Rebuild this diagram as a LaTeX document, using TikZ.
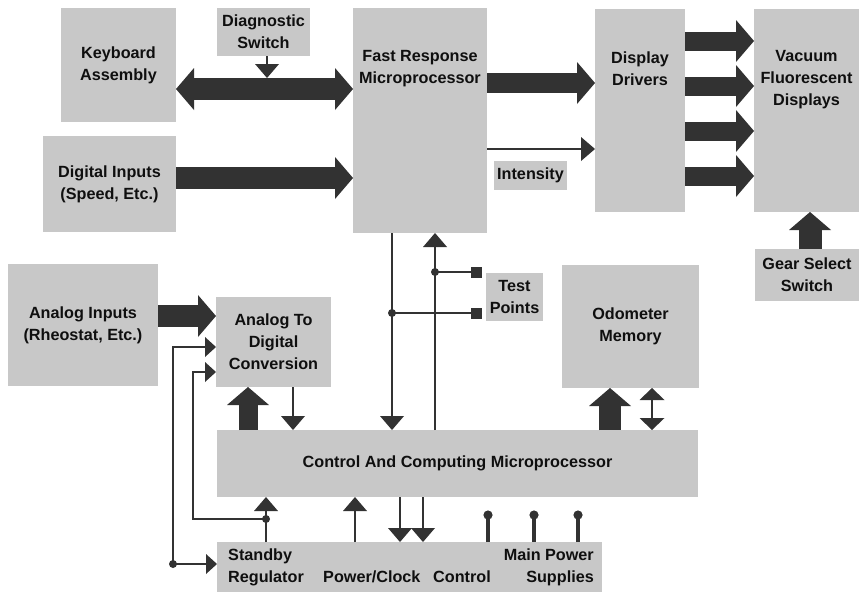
\documentclass[tikz,border=0pt]{standalone}
\usepackage{fontspec}
\setmainfont{Liberation Sans}
\usetikzlibrary{arrows.meta,calc}
\definecolor{boxg}{RGB}{200,200,200}
\definecolor{dk}{RGB}{50,50,50}
\definecolor{tx}{RGB}{15,15,15}
\begin{document}
\begin{tikzpicture}[x=1pt,y=-1pt,
  box/.style={fill=boxg, draw=none, inner sep=0pt, outer sep=0pt, anchor=north west},
  txt/.style={font=\fontsize{16.2}{22}\selectfont\bfseries, text=tx, align=center, inner sep=0pt},
  fat/.style={draw=dk, line width=22pt, -{Triangle[length=18pt,width=42pt,line width=0pt]}},
  fatboth/.style={draw=dk, line width=22pt, {Triangle[length=18pt,width=42pt,line width=0pt]}-{Triangle[length=18pt,width=42pt,line width=0pt]}},
  thinar/.style={draw=dk, line width=2.8pt, line join=miter, -{Triangle[length=14pt,width=24pt,line width=0pt]}},
  smallar/.style={draw=dk, line width=2.8pt, line join=miter, -{Triangle[length=11pt,width=20pt,line width=0pt]}},
  dblar/.style={draw=dk, line width=2.8pt, {Triangle[length=12pt,width=25pt,line width=0pt]}-{Triangle[length=12pt,width=25pt,line width=0pt]}},
  ln/.style={draw=dk, line width=2.8pt, line join=miter},
  pin/.style={draw=dk, line width=4pt},
  tpsq/.style={fill=dk, minimum width=11pt, minimum height=11pt, inner sep=0pt}
]
\fill[white] (0,0) rectangle (859,592);
\useasboundingbox (0,0) rectangle (859,592);

% boxes
\node[box, minimum width=115pt, minimum height=114pt] (kb) at (61,8) {};
\node[box, minimum width=93pt, minimum height=48pt] (diag) at (217,8) {};
\node[box, minimum width=133pt, minimum height=96pt] (dig) at (43,136) {};
\node[box, minimum width=134pt, minimum height=225pt] (fr) at (353,8) {};
\node[box, minimum width=90pt, minimum height=203pt] (dd) at (595,9) {};
\node[box, minimum width=105pt, minimum height=203pt] (vf) at (754,9) {};
\node[box, minimum width=73pt, minimum height=29pt] (int) at (494,161) {};
\node[box, minimum width=104pt, minimum height=52pt] (gear) at (755,249) {};
\node[box, minimum width=150pt, minimum height=122pt] (ai) at (8,264) {};
\node[box, minimum width=115pt, minimum height=90pt] (adc) at (216,297) {};
\node[box, minimum width=57pt, minimum height=48pt] (tp) at (486,273) {};
\node[box, minimum width=137pt, minimum height=123pt] (odo) at (562,265) {};
\node[box, minimum width=481pt, minimum height=67pt] (ccm) at (217,430) {};
\node[box, minimum width=385pt, minimum height=50pt] (ps) at (217,542) {};

% texts
\node[txt] at (kb.center) {Keyboard\\Assembly};
\node[txt] at (diag.center) {Diagnostic\\Switch};
\node[txt] at (dig.center) {Digital Inputs\\(Speed, Etc.)};
\node[txt] at (fr.north |- 0,69) {Fast Response\\Microprocessor};
\node[txt] at (dd.north |- 0,69) {Display\\Drivers};
\node[txt] at (vf.north |- 0,80) {Vacuum\\Fluorescent\\Displays};
\node[txt] at (int.center) {Intensity};
\node[txt] at (gear.center) {Gear Select\\Switch};
\node[txt] at (ai.center) {Analog Inputs\\(Rheostat, Etc.)};
\node[txt] at (adc.center) {Analog To\\Digital\\Conversion};
\node[txt] at (tp.center) {Test\\Points};
\node[txt] at (odo.center) {Odometer\\Memory};
\node[txt] at (ccm.center) {Control And Computing Microprocessor};
\node[txt, anchor=base west] (t1) at (228,560) {Standby};
\node[txt, anchor=base west] (t2) at (228,582) {Regulator};
\node[txt, anchor=base west] (t3) at (323,582) {Power/Clock};
\node[txt, anchor=base west] (t4) at (433,582) {Control};
\node[txt, anchor=base east] (t5) at (594,560) {Main Power};
\node[txt, anchor=base east] (t6) at (594,582) {Supplies};

% thick arrows
\draw[fatboth] (kb.east |- 0,89) -- (fr.west |- 0,89);
\draw[fat] (dig.east |- 0,178) -- (fr.west |- 0,178);
\draw[fat, line width=20pt] (fr.east |- 0,83) -- (dd.west |- 0,83);
\foreach \yy in {41,86,131,176}
  \draw[fat, line width=19pt] (dd.east |- 0,\yy) -- (vf.west |- 0,\yy);
\draw[fat, line width=23pt] (gear.north -| 810,0) -- (vf.south -| 810,0);
\draw[fat] (ai.east |- 0,316) -- (adc.west |- 0,316);
\draw[fat, line width=19pt] (ccm.north -| 248,0) -- (adc.south -| 248,0);
\draw[fat] (ccm.north -| 610,0) -- (odo.south -| 610,0);

% thin arrows
\coordinate (dtip) at (267,78);
\draw[thinar] (diag.south -| dtip) -- (dtip);
\draw[thinar] (fr.east |- 0,149) -- (dd.west |- 0,149);
\draw[thinar] (adc.south -| 293,0) -- (ccm.north -| 293,0);
\draw[thinar] (fr.south -| 392,0) -- (ccm.north -| 392,0);
\draw[thinar] (ccm.north -| 435,0) -- (fr.south -| 435,0);
\draw[dblar] (odo.south -| 652,0) -- (ccm.north -| 652,0);

% test points
\coordinate (j1) at (435,272);
\coordinate (j2) at (392,313);
\node[tpsq] (s1) at (476,272) {};
\node[tpsq] (s2) at (476,313) {};
\draw[ln] (j1) -- (s1.center);
\draw[ln] (j2) -- (s2.center);
\fill[dk] (j1) circle (4pt);
\fill[dk] (j2) circle (4pt);

% bottom connections
\coordinate (jA) at (266,519);
\coordinate (jB) at (173,564);
\draw[thinar] (ps.north -| jA) -- (ccm.south -| jA);
\draw[thinar] (ps.north -| 355,0) -- (ccm.south -| 355,0);
\draw[thinar] (ccm.south -| 400,0) -- (ps.north -| 400,0);
\draw[thinar] (ccm.south -| 423,0) -- (ps.north -| 423,0);
\draw[smallar] (jA) -- (193,519) -- (193,372) -- (adc.west |- 0,372);
\draw[smallar] (jB) -- (173,347) -- (adc.west |- 0,347);
\draw[smallar] (jB) -- (ps.west |- jB);
\fill[dk] (jA) circle (4pt);
\fill[dk] (jB) circle (4pt);

% supply pins
\foreach \xx in {488,534,578} {
  \draw[pin] (ps.north -| \xx,0) -- (\xx,515);
  \fill[dk] (\xx,515) circle (4.6pt);
}
\end{tikzpicture}
\end{document}
